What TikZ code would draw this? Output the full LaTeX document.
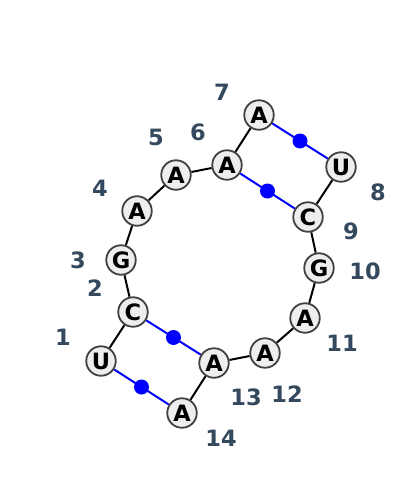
\documentclass[tikz,border=0pt]{standalone}
\usepackage{fontspec}
\setmainfont{DejaVu Sans}
\usetikzlibrary{backgrounds}
\definecolor{nfill}{HTML}{EEEEEE}
\definecolor{nedge}{HTML}{404040}
\definecolor{lblc}{HTML}{34495E}
\tikzset{
  base/.style={circle, draw=nedge, line width=1.8pt, fill=nfill, minimum size=29.5pt, inner sep=0pt,
    font=\fontsize{22.5}{22.5}\selectfont\bfseries, text=black},
  num/.style={font=\fontsize{22.5}{22.5}\selectfont\bfseries, text=lblc, inner sep=0pt},
  bb/.style={draw=black, line width=2pt},
  pair/.style={draw=blue, line width=2pt},
  pdot/.style={circle, fill=blue, minimum size=15pt, inner sep=0pt}
}
\begin{document}
\begin{tikzpicture}[x=1pt, y=-1pt]
\useasboundingbox (0,0) rectangle (400,487);
\node[base] (n1) at (101,361) {U};
\node[base] (n2) at (133,312) {C};
\node[base] (n3) at (121,260) {G};
\node[base] (n4) at (137,211) {A};
\node[base] (n5) at (176,175) {A};
\node[base] (n6) at (227,165) {A};
\node[base] (n7) at (259,115) {A};
\node[base] (n8) at (341,167) {U};
\node[base] (n9) at (308,217) {C};
\node[base] (n10) at (319,268) {G};
\node[base] (n11) at (305,318) {A};
\node[base] (n12) at (265,353) {A};
\node[base] (n13) at (214,363) {A};
\node[base] (n14) at (182,413) {A};
\node[num] (l1) at (63,337) {1};
\node[num] (l2) at (95,288) {2};
\node[num] (l3) at (78,260) {3};
\node[num] (l4) at (100,188) {4};
\node[num] (l5) at (156,137) {5};
\node[num] (l6) at (198,132) {6};
\node[num] (l7) at (222,92) {7};
\node[num] (l8) at (378,192) {8};
\node[num] (l9) at (351,231) {9};
\node[num] (l10) at (365,271) {10};
\node[num] (l11) at (342,343) {11};
\node[num] (l12) at (287,394) {12};
\node[num] (l13) at (246,397) {13};
\node[num] (l14) at (221,438) {14};
\begin{scope}[on background layer]
\draw[bb] (n1) -- (n2) -- (n3) -- (n4) -- (n5) -- (n6) -- (n7);
\draw[bb] (n8) -- (n9) -- (n10) -- (n11) -- (n12) -- (n13) -- (n14);
\draw[pair] (n7) -- (n8) node[midway, pdot] (d78) {};
\draw[pair] (n6) -- (n9) node[midway, pdot] (d69) {};
\draw[pair] (n2) -- (n13) node[midway, pdot] (d213) {};
\draw[pair] (n1) -- (n14) node[midway, pdot] (d114) {};
\end{scope}
\end{tikzpicture}
\end{document}
